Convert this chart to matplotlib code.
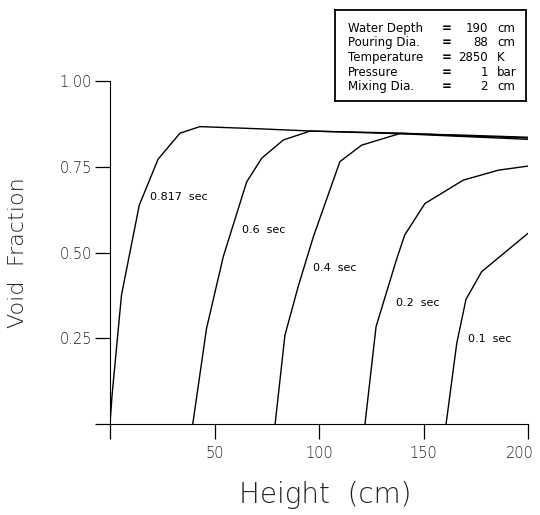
import numpy as np
import matplotlib
matplotlib.use("Agg")
import matplotlib.pyplot as plt
import matplotlib.transforms as mtransforms

# === Data ===
h_0817 = [0, 1, 5.5, 14, 23, 33.5, 43, 70, 97, 140, 170, 200]
v_0817 = [0, 0.085, 0.376, 0.638, 0.772, 0.848, 0.867, 0.861, 0.854, 0.846, 0.838, 0.830]

h_06 = [39.6, 46.2, 54.2, 65.4, 72.6, 82.9, 95.7, 140, 170, 200]
v_06 = [0, 0.279, 0.488, 0.706, 0.775, 0.828, 0.854, 0.848, 0.840, 0.834]

h_04 = [79, 83.7, 90, 97.3, 110, 120.4, 138.8, 170, 200]
v_04 = [0, 0.259, 0.40, 0.546, 0.765, 0.813, 0.847, 0.842, 0.836]

h_02 = [122, 127.3, 137, 141, 150.7, 169, 185.8, 200]
v_02 = [0, 0.284, 0.478, 0.551, 0.643, 0.711, 0.740, 0.752]

h_01 = [160.8, 165.9, 170.3, 177.8, 200]
v_01 = [0, 0.235, 0.363, 0.444, 0.556]

curves = [(h_0817, v_0817), (h_06, v_06), (h_04, v_04), (h_02, v_02), (h_01, v_01)]
labels = ["0.817  sec", "0.6  sec", "0.4  sec", "0.2  sec", "0.1  sec"]
label_pos = [(19, 0.663), (63, 0.566), (97, 0.454), (137, 0.352), (171.5, 0.247)]

x_ticks = [50, 100, 150, 200]
y_ticks = [0.25, 0.50, 0.75, 1.00]

info_names = ["Water Depth", "Pouring Dia.", "Temperature", "Pressure", "Mixing Dia."]
info_values = ["190", "88", "2850", "1", "2"]
info_units = ["cm", "cm", "K", "bar", "cm"]

# === Figure ===
fig = plt.figure(figsize=(5.4, 5.15), dpi=100)
ax = fig.add_axes([0.2037, 0.1767, 0.7741, 0.666])

for (h, v) in curves:
    ax.plot(h, v, color="black", lw=1.0)

for lab, (x, y) in zip(labels, label_pos):
    ax.text(x, y, lab, fontsize=8, ha="left", va="center")

ax.set_xlim(0, 200)
ax.set_ylim(0, 1.0)
ax.spines["top"].set_visible(False)
ax.spines["right"].set_visible(False)
ax.spines["left"].set_bounds(0, 1.0)
ax.spines["bottom"].set_bounds(0, 200)

ax.set_xticks([0] + x_ticks)
ax.set_xticklabels([""] + [str(t) for t in x_ticks])
ax.set_yticks([0] + y_ticks)
ax.set_yticklabels([""] + ["%.2f" % t for t in y_ticks])
ax.tick_params(direction="out", length=11, width=0.9, labelsize=10.5,
               labelcolor="#222222")
ax.tick_params(axis="y", pad=2)
ax.tick_params(axis="x", pad=5)
for lbl in ax.get_xticklabels() + ax.get_yticklabels():
    lbl.set_fontweight(200)

# "200" sitzt am rechten Rand -> etwas nach links schieben
last = ax.get_xticklabels()[-1]
last.set_transform(last.get_transform() +
                   mtransforms.ScaledTranslation(-6 / 72, 0, fig.dpi_scale_trans))

ax.set_xlabel("Height  (cm)", fontsize=20, color="#222222", fontweight=200)
ax.xaxis.set_label_coords(0.514, -0.166)
ax.set_ylabel("Void  Fraction", fontsize=16, color="#222222", fontweight=200)
ax.yaxis.set_label_coords(-0.196, 0.5)

# info box
bx = fig.add_axes([0.620, 0.804, 0.354, 0.177])
bx.set_xticks([])
bx.set_yticks([])
for s in bx.spines.values():
    s.set_linewidth(1.3)
bx.set_xlim(0, 1)
bx.set_ylim(0, 1)
row_y = [0.80, 0.637, 0.473, 0.308, 0.154]
for i in range(len(info_names)):
    yy = row_y[i]
    bx.text(0.068, yy, info_names[i], fontsize=8.5, va="center", ha="left")
    bx.text(0.586, yy, "=", fontsize=8.5, va="center", ha="center", fontweight="bold")
    bx.text(0.80, yy, info_values[i], fontsize=8.5, va="center", ha="right")
    bx.text(0.848, yy, info_units[i], fontsize=8.5, va="center", ha="left")

fig.savefig("out.png", dpi=100)
